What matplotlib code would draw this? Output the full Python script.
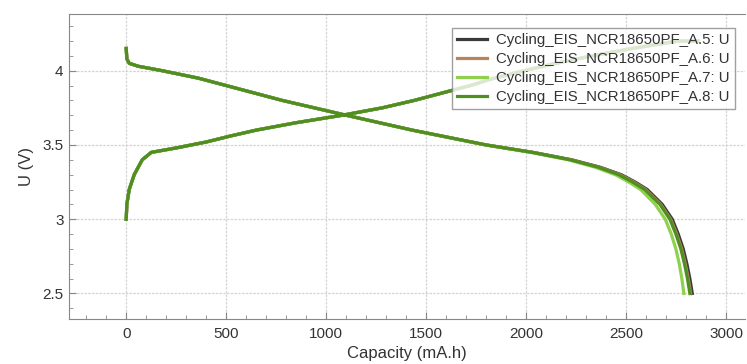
import numpy as np
import matplotlib
matplotlib.use("Agg")
import matplotlib.pyplot as plt
from matplotlib.ticker import MultipleLocator

plt.rcParams['font.family'] = ['Liberation Sans', 'DejaVu Sans']

# charge branch (same for all four cells)
charge_u = [3.00, 3.10, 3.20, 3.30, 3.40, 3.45, 3.48, 3.52, 3.56, 3.60, 3.65, 3.70,
            3.75, 3.80, 3.85, 3.90, 3.95, 4.00, 4.05, 4.10, 4.15, 4.20, 4.20]
charge_cap = [0, 3, 15, 40, 80, 125, 250, 400, 520, 650, 850, 1080,
              1280, 1440, 1580, 1720, 1840, 1990, 2150, 2330, 2530, 2760, 2860]

# discharge branch
discharge_u = [4.15, 4.08, 4.05, 4.03, 4.00, 3.95, 3.90, 3.80, 3.70, 3.60, 3.50, 3.45, 3.40,
               3.35, 3.30, 3.25, 3.20, 3.10, 3.00, 2.90, 2.80, 2.70, 2.60, 2.50]
cap_a5 = [0, 3, 15, 60, 180, 360, 500, 780, 1100, 1430, 1800, 2035, 2228,
          2370, 2475, 2545, 2605, 2680, 2730, 2760, 2785, 2803, 2818, 2830]
cap_a6 = [0, 3, 15, 60, 180, 360, 500, 780, 1100, 1430, 1800, 2032, 2224,
          2365, 2468, 2538, 2597, 2672, 2722, 2752, 2777, 2795, 2810, 2822]
cap_a7 = [0, 3, 15, 60, 180, 360, 500, 780, 1100, 1428, 1795, 2022, 2210,
          2345, 2445, 2513, 2572, 2645, 2695, 2725, 2748, 2765, 2778, 2788]
cap_a8 = [0, 3, 15, 60, 180, 360, 500, 780, 1100, 1430, 1800, 2030, 2220,
          2360, 2462, 2532, 2592, 2668, 2718, 2748, 2773, 2791, 2806, 2818]

labels = ['Cycling_EIS_NCR18650PF_A.5: U', 'Cycling_EIS_NCR18650PF_A.6: U',
          'Cycling_EIS_NCR18650PF_A.7: U', 'Cycling_EIS_NCR18650PF_A.8: U']
colors = ['#3a3a3a', '#b8845a', '#8fd14f', '#4f8f1f']
discharge_caps = [cap_a5, cap_a6, cap_a7, cap_a8]

fig = plt.figure(figsize=(7.47, 3.64), dpi=100)
ax = fig.add_axes([0.0924, 0.1236, 0.905, 0.838])

for lab, col, dcap in zip(labels, colors, discharge_caps):
    x = charge_cap + [np.nan] + dcap
    y = charge_u + [np.nan] + discharge_u
    ax.plot(x, y, color=col, lw=2.3, label=lab)

ax.set_xlim(-286, 3094)
ax.set_ylim(2.328, 4.382)
ax.xaxis.set_major_locator(MultipleLocator(500))
ax.xaxis.set_minor_locator(MultipleLocator(100))
ax.yaxis.set_minor_locator(MultipleLocator(0.1))
ax.set_yticks([2.5, 3, 3.5, 4])
ax.set_yticklabels(['2.5', '3', '3.5', '4'])

ax.grid(True, which='major', color='#d4d4d4', linestyle=(0, (2, 1)), lw=0.9)
ax.tick_params(which='both', direction='in', colors='#888888', labelcolor='#333333',
               labelsize=11)
ax.tick_params(which='major', length=5)
ax.tick_params(which='minor', length=3)
ax.tick_params(axis='x', pad=6)
ax.tick_params(axis='y', pad=4)
for s in ax.spines.values():
    s.set_color('#888888')
ax.spines['right'].set_visible(False)

ax.set_xlabel('Capacity (mA.h)', fontsize=12, color='#333333', labelpad=3)
ax.set_ylabel('U (V)', fontsize=12, color='#333333', labelpad=6)

leg = ax.legend(loc='upper right', bbox_to_anchor=(0.985, 0.954), borderaxespad=0,
                fontsize=10.8, frameon=True, fancybox=False, framealpha=0.8,
                edgecolor='#888888', handlelength=2.0, borderpad=0.35,
                labelspacing=0.33, handletextpad=0.6)
leg.get_frame().set_linewidth(1.0)
for t in leg.get_texts():
    t.set_color('#333333')

fig.savefig('out.png', dpi=100)
